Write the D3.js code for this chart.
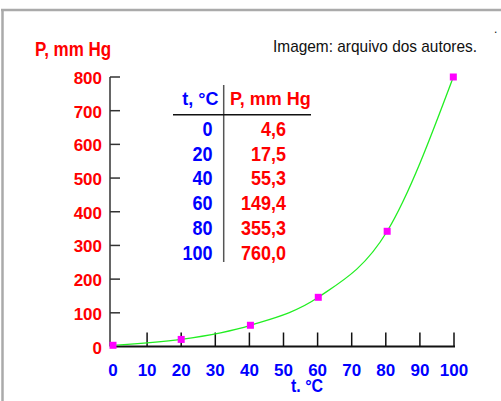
<!DOCTYPE html>
<html>
<head>
<meta charset="utf-8">
<script src="https://cdn.jsdelivr.net/npm/d3@7"></script>
<style>
  body { margin: 0; background: #fff; }
  svg text { font-family: "Liberation Sans", Arial, sans-serif; }
</style>
</head>
<body>
<div id="chart"></div>
<script>
// values
const temps = [0, 20, 40, 60, 80, 100]
const pressureLabels = ['4,6', '17,5', '55,3', '149,4', '355,3', '760,0']
const pointT = [0, 20, 40.3, 60.2, 80.4, 99.8]
const pointP = [3.6, 21, 63, 146, 342, 800]
const xTicks = [0, 10, 20, 30, 40, 50, 60, 70, 80, 90, 100]
const yTicks = [0, 100, 200, 300, 400, 500, 600, 700, 800]

const width = 501
const height = 401
const red = '#ff0000'
const blue = '#0000ff'

const svg = d3.select('#chart').append('svg')
  .attr('width', width)
  .attr('height', height)

const x = d3.scaleLinear().domain([0, 100]).range([113, 454])
const y = d3.scaleLinear().domain([0, 800]).range([346.5, 77])

// frame
svg.append('path')
  .attr('d', 'M1,10H501M2.5,9V401')
  .attr('fill', 'none')
  .attr('stroke', '#aaaaaa')
  .attr('stroke-width', 2.5)

// axes
svg.append('line')
  .attr('x1', 110).attr('x2', 110)
  .attr('y1', y(800)).attr('y2', y(0))
  .attr('stroke', '#333').attr('stroke-width', 1.5)
svg.append('line')
  .attr('x1', 110).attr('x2', 455)
  .attr('y1', y(0)).attr('y2', y(0))
  .attr('stroke', '#111').attr('stroke-width', 2)

svg.selectAll('.ytick').data(yTicks.filter(d => d > 0)).enter().append('line')
  .attr('x1', 110).attr('x2', 120)
  .attr('y1', d => y(d)).attr('y2', d => y(d))
  .attr('stroke', '#333').attr('stroke-width', 1.5)

svg.selectAll('.xtick').data(xTicks.filter(d => d > 0)).enter().append('line')
  .attr('x1', d => x(d)).attr('x2', d => x(d))
  .attr('y1', y(0)).attr('y2', y(0) - 14)
  .attr('stroke', '#111').attr('stroke-width', 1.5)

svg.selectAll('.ylab').data(yTicks).enter().append('text')
  .attr('x', 102)
  .attr('y', d => y(d) + 7)
  .attr('text-anchor', 'end')
  .attr('font-size', 17)
  .attr('font-weight', 'bold')
  .attr('fill', red)
  .text(d => d)

svg.selectAll('.xlab').data(xTicks).enter().append('text')
  .attr('x', d => x(d))
  .attr('y', 375.5)
  .attr('text-anchor', 'middle')
  .attr('font-size', 17)
  .attr('font-weight', 'bold')
  .attr('fill', blue)
  .text(d => d)

// axis titles
svg.append('text')
  .attr('transform', 'translate(35,56) scale(1,1.17)')
  .attr('font-size', 17)
  .attr('font-weight', 'bold')
  .attr('fill', red)
  .text('P, mm Hg')

svg.append('text')
  .attr('transform', 'translate(307,392) scale(1,1.12)')
  .attr('text-anchor', 'middle')
  .attr('font-size', 16)
  .attr('font-weight', 'bold')
  .attr('fill', blue)
  .text('t. °C')

svg.append('text')
  .attr('x', 273).attr('y', 51.7)
  .attr('font-size', 17)
  .attr('textLength', 204)
  .attr('lengthAdjust', 'spacingAndGlyphs')
  .attr('fill', '#111')
  .text('Imagem: arquivo dos autores.')

svg.append('text')
  .attr('x', 494).attr('y', 33)
  .attr('font-size', 12)
  .attr('fill', '#111')
  .text('.')

// table
const rowY = d3.scaleLinear().domain([0, temps.length - 1]).range([135.7, 260])

svg.append('line')
  .attr('x1', 223.7).attr('x2', 223.7)
  .attr('y1', 85).attr('y2', 262)
  .attr('stroke', '#555').attr('stroke-width', 1.5)
svg.append('line')
  .attr('x1', 173).attr('x2', 311)
  .attr('y1', 114.7).attr('y2', 114.7)
  .attr('stroke', '#111').attr('stroke-width', 1.5)

svg.append('text')
  .attr('x', 218.5).attr('y', 105)
  .attr('text-anchor', 'end')
  .attr('font-size', 18)
  .attr('font-weight', 'bold')
  .attr('fill', blue)
  .text('t, °C')
svg.append('text')
  .attr('x', 230).attr('y', 105)
  .attr('font-size', 18)
  .attr('font-weight', 'bold')
  .attr('fill', red)
  .text('P, mm Hg')

svg.selectAll('.tcol').data(temps).enter().append('text')
  .attr('transform', (d, i) => `translate(212.5,${rowY(i)}) scale(1,1.15)`)
  .attr('text-anchor', 'end')
  .attr('font-size', 18)
  .attr('font-weight', 'bold')
  .attr('fill', blue)
  .text(d => d)

svg.selectAll('.pcol').data(pressureLabels).enter().append('text')
  .attr('transform', (d, i) => `translate(286,${rowY(i)}) scale(1,1.15)`)
  .attr('text-anchor', 'end')
  .attr('font-size', 18)
  .attr('font-weight', 'bold')
  .attr('fill', red)
  .text(d => d)

// curve and points
const points = pointT.map((t, i) => ({ t: t, p: pointP[i] }))

const line = d3.line()
  .x(d => x(d.t))
  .y(d => y(d.p))
  .curve(d3.curveMonotoneX)

svg.append('path')
  .datum(points)
  .attr('d', line)
  .attr('fill', 'none')
  .attr('stroke', '#22ee22')
  .attr('stroke-width', 1.3)

svg.selectAll('.pt').data(points).enter().append('rect')
  .attr('x', d => x(d.t) - 3.5)
  .attr('y', d => y(d.p) - 3.5)
  .attr('width', 7)
  .attr('height', 7)
  .attr('fill', '#ff00ff')
</script>
</body>
</html>
